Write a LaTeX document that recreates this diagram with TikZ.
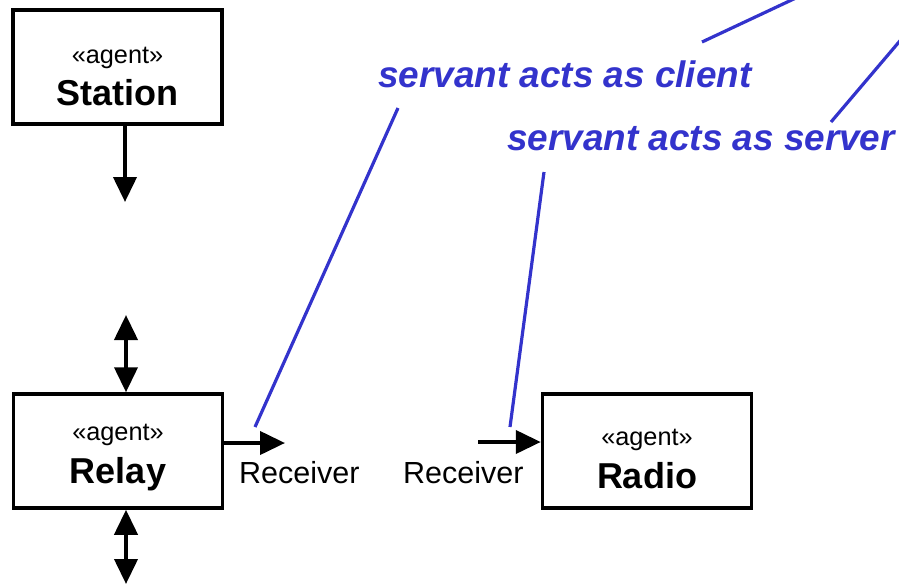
\documentclass[tikz,border=0pt]{standalone}
\usepackage{fontspec}
\setmainfont{Liberation Sans}
\usetikzlibrary{arrows.meta}
\definecolor{notecol}{RGB}{51,51,204}
\tikzset{
  agentbox/.style={draw=black, line width=3.5pt, minimum width=209pt, minimum height=114pt, inner sep=0pt, fill=white},
  stereo/.style={anchor=base, inner sep=0pt, font=\fontsize{25.3}{30}\selectfont},
  agentname/.style={anchor=base, inner sep=0pt, font=\fontsize{36}{42}\selectfont\bfseries},
  portlbl/.style={anchor=base west, inner sep=0pt, font=\fontsize{30.5}{36}\selectfont},
  note/.style={anchor=base west, inner sep=0pt, text=notecol, font=\fontsize{36.9}{44}\selectfont\bfseries\itshape},
  flow/.style={line width=4pt, -{Triangle[width=23pt,length=25pt]}},
  bothflow/.style={line width=4pt, {Triangle[width=23pt,length=25pt]}-{Triangle[width=23pt,length=25pt]}},
  noteline/.style={draw=notecol, line width=3.2pt}
}
\begin{document}
\begin{tikzpicture}[x=1pt, y=-1pt]
\useasboundingbox (0,0) rectangle (899,584);
\clip (0,0) rectangle (899,584);

% agent boxes
\node[agentbox] (station) at (117.5,67) {};
\node[agentbox] (relay) at (118,451) {};
\node[agentbox] (radio) at (647,451) {};

\node[stereo] (stS) at (117.5,63) {«agent»};
\node[agentname] (stN) at (117.5,105) {Station};
\node[stereo] (rlS) at (118,440) {«agent»};
\node[agentname] (rlN) at (118,483) {Relay};
\node[stereo] (rdS) at (647,445) {«agent»};
\node[agentname] (rdN) at (647,488) {Radio};

% ports and flows
\coordinate (stationout) at (125,202);
\coordinate (relaytop) at (126,315);
\coordinate (relaybot) at (126,584);
\coordinate (relayport) at (285,443);
\coordinate (radioport) at (478,442);

\draw[flow] (station.south -| stationout) -- (stationout);
\draw[bothflow] (relaytop) -- (relaytop |- relay.north);
\draw[bothflow] (relaytop |- relay.south) -- (relaybot);
\draw[flow] (relay.east |- relayport) -- (relayport);
\draw[flow] (radioport) -- (radio.west |- radioport);

\node[portlbl] (recv1) at (239,483) {Receiver};
\node[portlbl] (recv2) at (403,483) {Receiver};

% annotations
\node[note] (client) at (378,87) {servant acts as client};
\node[note] (server) at (507,150) {servant acts as server};

\coordinate (c1a) at (398,108);
\coordinate (c1b) at (255,427);
\coordinate (s1a) at (544,172);
\coordinate (s1b) at (510,427);
\coordinate (c2a) at (702,42);
\coordinate (c2b) at (815,-11);
\coordinate (s2a) at (831,122);
\coordinate (s2b) at (910,29);

\draw[noteline] (c1a) -- (c1b);
\draw[noteline] (s1a) -- (s1b);
\draw[noteline] (c2a) -- (c2b);
\draw[noteline] (s2a) -- (s2b);
\end{tikzpicture}
\end{document}
